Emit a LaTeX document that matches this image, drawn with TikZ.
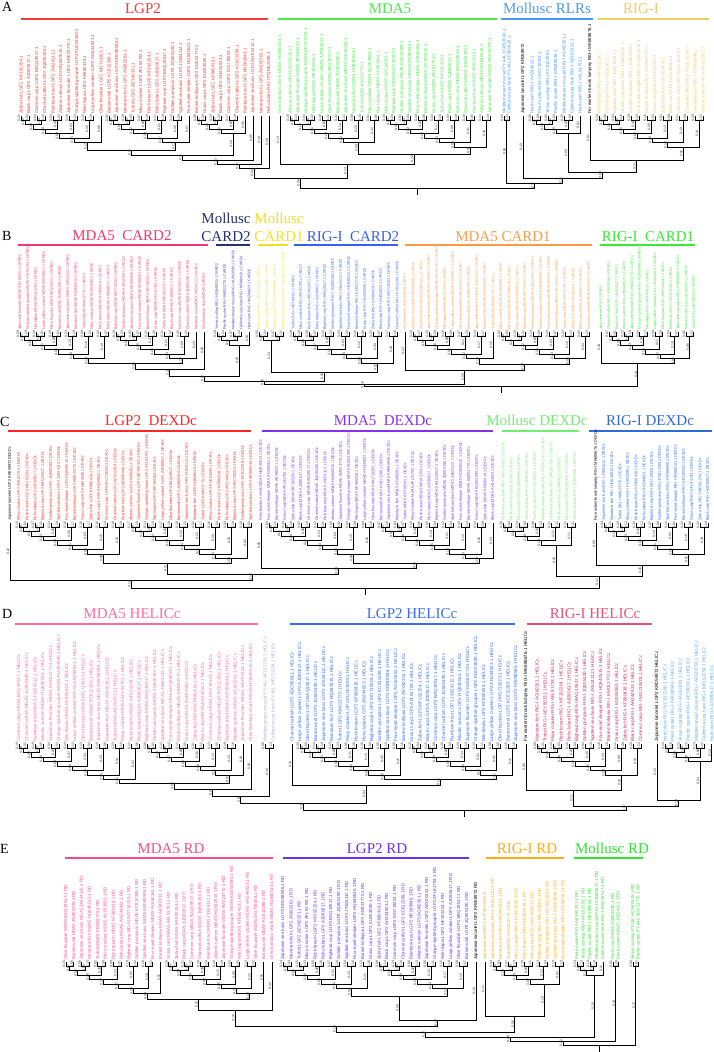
\documentclass[tikz,border=0pt]{standalone}
\usepackage{fontspec}
\setmainfont{Liberation Serif}
\newfontfamily\labfont{Liberation Sans}
\usetikzlibrary{calc}

\definecolor{lgpA}{HTML}{F23A3A}
\definecolor{mdaA}{HTML}{4DE84D}
\definecolor{molA}{HTML}{4A9AF0}
\definecolor{rigA}{HTML}{F2CC66}
\definecolor{pinkB}{HTML}{F0386C}
\definecolor{navyB}{HTML}{283070}
\definecolor{navyL}{HTML}{3A3AC0}
\definecolor{yelB}{HTML}{F2E020}
\definecolor{bluB}{HTML}{3560F0}
\definecolor{oraB}{HTML}{FF9A45}
\definecolor{greB}{HTML}{36EA36}
\definecolor{redC}{HTML}{FF2626}
\definecolor{purC}{HTML}{8530F0}
\definecolor{greC}{HTML}{70EE70}
\definecolor{bluC}{HTML}{2F6AD8}
\definecolor{pinkD}{HTML}{FF6C9C}
\definecolor{bluD}{HTML}{3C6CF5}
\definecolor{redD}{HTML}{D42A5C}
\definecolor{hdD}{HTML}{E8507C}
\definecolor{lavD}{HTML}{B4A8E6}
\definecolor{molD}{HTML}{5AA8F5}
\definecolor{pinkE}{HTML}{FF4C88}
\definecolor{purE}{HTML}{6A30F8}
\definecolor{oraE}{HTML}{FFAC18}
\definecolor{greE}{HTML}{2EE62E}

% leaf names
\newcounter{leafno}
\newcommand\fish[1]{\pgfmathtruncatemacro\fk{mod(#1,24)}\ifcase\fk\relax
  Grass carp\or Zebra fish\or Black carp\or Common carp\or Channel catfish\or
  Rainbow trout\or Atlantic salmon\or Japanese flounder\or Orange-spotted grouper\or
  Nile tilapia\or Large yellow croaker\or Olive flounder\or Barramundi\or
  Japanese sea bass\or Mandarin fish\or Turbot\or Miiuy croaker\or Rock bream\or
  Rohu labeo\or Bighead carp\or Golden pompano\or Spotted sea bass\or
  Four-eyed sleeper\or Barred knifejaw\fi}
\newcommand\moll[1]{\pgfmathtruncatemacro\fk{mod(#1,6)}\ifcase\fk\relax
  Yesso scallop\or Pacific oyster\or Mediterranean mussel\or California sea hare\or
  Hard clam\or Pearl oyster\fi}
\newcommand\acc[1]{\pgfmathtruncatemacro\fk{mod(#1*7,16)}\ifcase\fk\relax
  AFL91793.1\or KM023770.1\or AGI60261.1\or JX624112.1\or KC812289.1\or
  BAQ19517.1\or AHZ44823.1\or MF192254.1\or KU053590.1\or AEY80331.1\or
  HQ840515.1\or KR088946.1\or JQ805190.1\or MG719203.1\or AJD80617.1\or
  KF880418.1\fi}
\newcommand\blen{\pgfmathtruncatemacro\bv{1+rnd*24}0.\ifnum\bv<10 0\fi\bv}

% tree parts
\newcommand\leaf[4]{%
  \coordinate (#1) at (#2,\yl);
  \node[leaflab, text=#3] (#1-t) at ([yshift=2pt]#1) {#4};
}
\newcommand\tjoin[4]{%
  \pgfmathsetmacro\yy{#4}%
  \path let \p1=(#2), \p2=(#3) in coordinate (#1) at ({(\x1+\x2)/2}, -\yy pt);
  \draw[branch] (#1) -| node[bl, pos=0.75] {\blen} (#2);
  \draw[branch] (#1) -| node[bl, pos=0.75] {\blen} (#3);
}
\newcommand\clade[7]{%
  \foreach \i in {1,...,#3}{%
    \stepcounter{leafno}%
    \pgfmathsetmacro\xx{#2+(\i-1)*#4}%
    \leaf{#1-\i}{\xx}{#5}{#7{\theleafno} #6 \acc{\theleafno}\dom}%
  }%
  \pgfmathtruncatemacro\np{int(#3/2)}%
  \pgfmathtruncatemacro\ng{int((#3+1)/2)}%
  \foreach \k in {1,...,\np}{%
    \pgfmathtruncatemacro\ka{2*\k-1}\pgfmathtruncatemacro\kb{2*\k}%
    \tjoin{#1-g\k}{#1-\ka}{#1-\kb}{\yl+\hc}%
  }%
  \ifnum\ng>\np \coordinate (#1-g\ng) at (#1-#3);\fi
  \coordinate (#1-r1) at (#1-g1);
  \ifnum\ng>1
    \foreach \k in {2,...,\ng}{%
      \pgfmathtruncatemacro\kp{\k-1}%
      \tjoin{#1-r\k}{#1-r\kp}{#1-g\k}{\yl+\hc+(\k-1)*\hs}%
    }%
  \fi
  \coordinate (#1) at (#1-r\ng);
}
\newcommand\clab[8]{%
  \node[hd, text=#2] (#1) at (#4,#5) {#3};
  \coordinate (#1-a) at (#6,#8);
  \coordinate (#1-b) at (#7,#8);
  \draw[hl, draw=#2] (#1-a) -- (#1-b);
}
\newcommand\stub[1]{%
  \coordinate (#1-s) at ($(#1)+(0,7)$);
  \draw[branch] (#1) -- (#1-s);
}

\begin{document}
\begin{tikzpicture}[
  x=1pt, y=-1pt,
  leaflab/.style={font=\labfont\fontsize{\lsz}{\lsz}\selectfont, rotate=90,
                  anchor=west, inner sep=0pt},
  bl/.style={font=\labfont\fontsize{3.4}{3.4}\selectfont, rotate=90, anchor=south,
             inner sep=0.4pt, text=black!80},
  branch/.style={line width=1pt, black},
  hd/.style={font=\fontsize{15}{17}\selectfont, anchor=base, inner sep=0pt},
  hl/.style={line width=1.2pt},
  pl/.style={font=\fontsize{14}{16}\selectfont, anchor=base west, inner sep=0pt},
]
\pgfmathsetseed{7}
\useasboundingbox (0,0) rectangle (714,1052);
\def\hc{4}\def\hs{4.5}

% Panel A
\node[pl] (pA) at (2,11) {A};
\clab{hA1}{lgpA}{LGP2}{143}{13}{21}{268}{19}
\clab{hA2}{mdaA}{MDA5}{390}{13}{278}{497}{19}
\clab{hA3}{molA}{Mollusc RLRs}{547}{13}{501}{593}{19}
\clab{hA4}{rigA}{RIG-I}{641}{13}{598}{709}{19}
\def\yl{116}\def\lsz{4.4}\def\dom{}
\clade{A1}{21}{11}{8}{lgpA}{LGP2}{\fish}
\clade{A2}{109}{11}{8}{lgpA}{LGP2}{\fish}
\clade{A3}{197}{7}{8}{lgpA}{LGP2}{\fish}
\leaf{A4}{253}{lgpA}{Japanese sea bass LGP2 AIY62412.1}
\leaf{A5}{261}{lgpA}{Mandarin fish LGP2 AKE50763.1}
\leaf{A6}{269}{lgpA}{Rohu labeo RIG-I PQM02389.1}
\tjoin{A12}{A1}{A2}{150}
\tjoin{A123}{A12}{A3}{155}
\tjoin{A1234}{A123}{A4}{160}
\tjoin{AL1}{A1234}{A5}{164}
\tjoin{AL}{AL1}{A6}{168}
\leaf{M0}{280}{mdaA}{Grey bamboo shark MDA5 HQ840513.1}
\clade{M1}{290}{12}{8}{mdaA}{MDA5}{\fish}
\clade{M2}{386}{14}{8}{mdaA}{MDA5}{\fish}
\tjoin{MM}{M1}{M2}{154}
\tjoin{AM}{M0}{MM}{164}
\tjoin{ALM}{AL}{AM}{178}
\clade{O1}{504}{2}{5}{molA}{PY-44L}{\moll}
\leaf{O2}{523}{black}{Japanese lancelet LGP2 KR058972}
\clade{O3}{532}{7}{8}{molA}{RIG-I}{\moll}
\leaf{O4}{590}{black}{Far eastern brook lamprey RIG-I MK688676.1}
\clade{R1}{599}{14}{8}{rigA}{RIG-I}{\fish}
\tjoin{OR1}{O4}{R1}{160}
\tjoin{OR2}{O3}{OR1}{172}
\tjoin{OR3}{O2}{OR2}{178}
\tjoin{OR}{O1}{OR3}{183}
\tjoin{Aroot}{ALM}{OR}{188}
\stub{Aroot}

% Panel B
\node[pl] (pB) at (2,240) {B};
\clab{hB1}{pinkB}{MDA5\ \ CARD2}{122}{240}{18}{208}{245}
\node[hd, text=navyB] (hB2m) at (226,223) {Mollusc};
\clab{hB2}{navyB}{CARD2}{226}{241}{216}{250}{245}
\node[hd, text=yelB] (hB3m) at (279,223) {Mollusc};
\clab{hB3}{yelB}{CARD1}{279}{241}{258}{288}{245}
\clab{hB4}{bluB}{RIG-I\ \ CARD2}{353}{241}{294}{398}{245}
\clab{hB5}{oraB}{MDA5 CARD1}{503}{241}{405}{592}{245}
\clab{hB6}{greB}{RIG-I\ \ CARD1}{648}{241}{600}{695}{245}
\def\yl{332}\def\lsz{3.6}\def\dom{ CARD2}
\clade{B1}{20}{12}{8}{pinkB}{MDA5}{\fish}
\clade{B2}{116}{11}{8}{pinkB}{MDA5}{\fish}
\leaf{B3}{204}{pinkB}{Grey bamboo shark MDA5 CARD2}
\tjoin{B12}{B1}{B2}{363}
\tjoin{BP}{B12}{B3}{369}
\clade{B4}{217}{5}{8}{navyL}{RIG-I}{\moll}
\tjoin{BPN}{BP}{B4}{376}
\def\dom{ CARD1}
\clade{B5}{259}{4}{8}{yelB}{RIG-I}{\moll}
\def\dom{ CARD2}
\clade{B6}{293}{14}{8}{bluB}{RIG-I}{\fish}
\tjoin{BYB}{B5}{B6}{372}
\tjoin{BL}{BPN}{BYB}{381}
\def\dom{ CARD1}
\leaf{B7}{405}{oraB}{Grey bamboo shark MDA5 CARD1}
\clade{B8}{413}{11}{8}{oraB}{MDA5}{\fish}
\clade{B9}{501}{12}{8}{oraB}{MDA5}{\fish}
\tjoin{B89}{B8}{B9}{364}
\tjoin{BO}{B7}{B89}{370}
\tjoin{BLO}{BL}{BO}{384}
\leaf{B10}{601}{greB}{Japanese eel RIG-I CARD1}
\clade{B11}{609}{12}{7.7}{greB}{RIG-I}{\fish}
\tjoin{BG}{B10}{B11}{363}
\tjoin{Broot}{BLO}{BG}{386}
\stub{Broot}

% Panel C
\node[pl] (pC) at (0,426) {C};
\clab{hC1}{redC}{LGP2\ \ DEXDc}{151}{425}{8}{251}{431}
\clab{hC2}{purC}{MDA5\ \ DEXDc}{383}{425}{262}{493}{431}
\clab{hC3}{greC}{Mollusc DEXDc}{537}{425}{502}{579}{431}
\clab{hC4}{bluC}{RIG-I DEXDc}{650}{425}{589}{712}{431}
\def\yl{523}\def\lsz{3.8}\def\dom{ DEXDc}
\leaf{C0}{10}{black}{Japanese lancelet LGP2 KR058972 DEXDc}
\clade{C1}{19}{14}{8}{redC}{LGP2}{\fish}
\clade{C2}{131}{16}{8}{redC}{LGP2}{\fish}
\tjoin{C12}{C1}{C2}{563}
\leaf{C3}{261}{purC}{Grey bamboo shark MDA5 HQ840513.1 DEXDc}
\clade{C4}{269}{14}{8}{purC}{MDA5}{\fish}
\clade{C5}{381}{15}{8}{purC}{MDA5}{\fish}
\tjoin{C45}{C4}{C5}{563}
\tjoin{CP}{C3}{C45}{568}
\tjoin{CRP}{C12}{CP}{574}
\tjoin{CL}{C0}{CRP}{580}
\clade{C6}{503}{10}{8}{greC}{RIG-I}{\moll}
\leaf{C7}{596}{black}{Far eastern brook lamprey RIG-I MK688676.1 DEXDc}
\clade{C8}{604}{14}{8}{bluC}{RIG-I}{\fish}
\tjoin{C78}{C7}{C8}{565}
\tjoin{CR}{C6}{C78}{576}
\tjoin{Croot}{CL}{CR}{588}
\stub{Croot}

% Panel D
\node[pl] (pD) at (2,618) {D};
\clab{hD1}{pinkD}{MDA5 HELICc}{132}{618}{15}{258}{624}
\clab{hD2}{bluD}{LGP2 HELICc}{412}{618}{290}{515}{624}
\clab{hD3}{hdD}{RIG-I HELICc}{595}{618}{527}{652}{624}
\def\yl{744}\def\lsz{4.6}\def\dom{ HELICc}
\clade{D1}{19}{16}{8}{pinkD}{MDA5}{\fish}
\clade{D2}{147}{13}{8}{pinkD}{MDA5}{\fish}
\leaf{D3}{251}{pinkD}{Grey bamboo shark MDA5 HQ840513.1 HELICc}
\tjoin{D12}{D1}{D2}{783}
\tjoin{DP}{D12}{D3}{789}
\clade{D4}{265}{2}{8}{lavD}{PY-44L}{\moll}
\tjoin{DPL}{DP}{D4}{796}
\leaf{D5}{292}{bluD}{Channel catfish LGP2 ADO85641.1 HELICc}
\clade{D6}{300}{14}{8}{bluD}{LGP2}{\fish}
\clade{D7}{412}{14}{8}{bluD}{LGP2}{\fish}
\tjoin{D67}{D6}{D7}{779}
\tjoin{DB}{D5}{D67}{785}
\tjoin{DL}{DPL}{DB}{803}
\leaf{D8}{526}{black}{Far eastern brook lamprey RIG-I MK688676.1 HELICc}
\clade{D9}{537}{14}{8}{redD}{RIG-I}{\fish}
\tjoin{DR}{D8}{D9}{790}
\leaf{D10}{657}{black}{Japanese lancelet LGP2 KR058972 HELICc}
\clade{D11}{665}{7}{7.8}{molD}{RIG-I}{\moll}
\tjoin{DM}{D10}{D11}{800}
\tjoin{DRM}{DR}{DM}{806}
\tjoin{Droot}{DL}{DRM}{810}
\stub{Droot}

% Panel E
\node[pl] (pE) at (0,853) {E};
\clab{hE1}{pinkE}{MDA5 RD}{171}{853}{65}{273}{858}
\clab{hE2}{purE}{LGP2 RD}{377}{853}{283}{469}{858}
\clab{hE3}{oraE}{RIG-I RD}{527}{853}{486}{564}{858}
\clab{hE4}{greE}{Mollusc RD}{612}{853}{574}{643}{858}
\def\yl{962}\def\lsz{4.4}\def\dom{ RD}
\clade{E1}{66}{13}{7.9}{pinkE}{MDA5}{\fish}
\clade{E2}{168.7}{13}{7.9}{pinkE}{MDA5}{\fish}
\leaf{E3}{272}{pinkE}{Grey bamboo shark MDA5 HQ840513.1 RD}
\tjoin{E12}{E1}{E2}{999}
\tjoin{EP}{E12}{E3}{1010}
\clade{E4}{283}{12}{8}{purE}{LGP2}{\fish}
\clade{E5}{379}{12}{8}{purE}{LGP2}{\fish}
\tjoin{E45}{E4}{E5}{996}
\leaf{E6}{476}{black}{Japanese lancelet LGP2 KR058972 RD}
\tjoin{EL}{E45}{E6}{1020}
\tjoin{EPL}{EP}{EL}{1026}
\leaf{E7}{485}{oraE}{Japanese eel RIG-I KT758016 RD}
\clade{E8}{493}{10}{7.8}{oraE}{RIG-I}{\fish}
\tjoin{EO}{E7}{E8}{1016}
\tjoin{EPO}{EPL}{EO}{1032}
\clade{E9}{577}{5}{6.5}{greE}{RIG-I}{\moll}
\tjoin{EPG}{EPO}{E9}{1037}
\clade{E10}{613}{2}{5.5}{greE}{MDA5}{\moll}
\tjoin{EPG2}{EPG}{E10}{1041}
\clade{E11}{633}{2}{5.5}{greE}{PY-44L}{\moll}
\tjoin{Eroot}{EPG2}{E11}{1045}
\stub{Eroot}
\end{tikzpicture}
\end{document}
